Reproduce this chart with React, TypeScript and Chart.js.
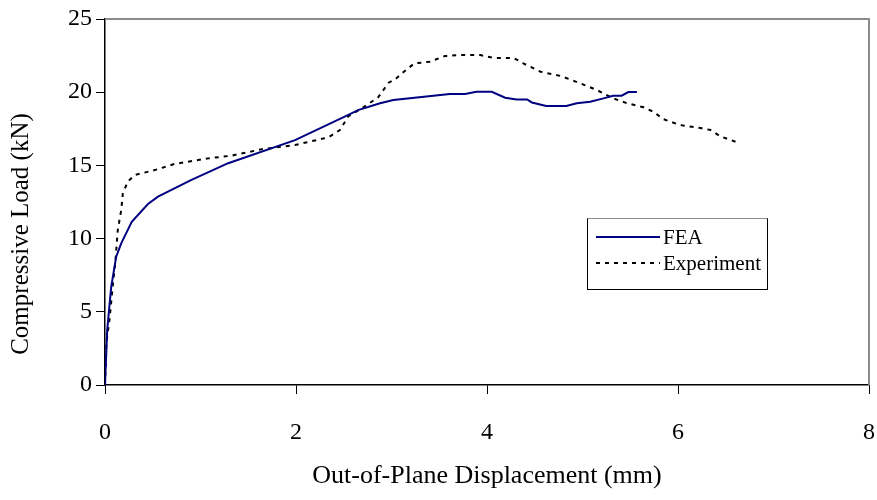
import React, { useEffect, useRef } from "react";
import { Chart, registerables } from "chart.js";

Chart.register(...registerables);

// ---- Data ----
const feaX = [0, 0.023, 0.065, 0.117, 0.17, 0.28, 0.45, 0.555, 0.9, 1.29, 1.99, 2.51, 2.65, 2.88, 3.02, 3.61, 3.77, 3.89, 4.05, 4.19, 4.31, 4.42, 4.47, 4.62, 4.83, 4.94, 5.08, 5.22, 5.32, 5.41, 5.48, 5.57];
const feaY = [0, 3.76, 6.7, 8.76, 9.68, 11.15, 12.36, 12.86, 14.0, 15.15, 16.73, 18.33, 18.78, 19.24, 19.47, 19.88, 19.88, 20.03, 20.03, 19.62, 19.5, 19.5, 19.3, 19.06, 19.06, 19.24, 19.35, 19.58, 19.76, 19.76, 20.01, 20.01];

const expX = [0, 0.013, 0.047, 0.08, 0.107, 0.134, 0.17, 0.187, 0.24, 0.31, 0.52, 0.73, 1.08, 1.32, 1.64, 1.99, 2.34, 2.46, 2.55, 2.69, 2.86, 2.97, 3.04, 3.13, 3.24, 3.4, 3.47, 3.56, 3.72, 3.93, 4.0, 4.08, 4.28, 4.38, 4.56, 4.77, 4.98, 5.15, 5.32, 5.47, 5.64, 5.74, 5.85, 6.02, 6.25, 6.34, 6.44, 6.65];
const expY = [0, 2.85, 4.44, 6.7, 8.3, 10.6, 11.95, 13.1, 13.9, 14.34, 14.68, 15.1, 15.48, 15.66, 16.1, 16.39, 16.92, 17.42, 18.37, 18.9, 19.65, 20.65, 20.88, 21.4, 21.97, 22.08, 22.25, 22.47, 22.54, 22.54, 22.43, 22.34, 22.34, 21.97, 21.4, 21.11, 20.6, 20.15, 19.58, 19.24, 18.97, 18.67, 18.15, 17.76, 17.53, 17.42, 17.0, 16.5];

const seriesLabels = ["FEA", "Experiment"];
const xTitle = "Out-of-Plane Displacement (mm)";
const yTitle = "Compressive Load (kN)";
const xRange = [0, 8];
const xStep = 2;
const yRange = [0, 25];
const yStep = 5;

const FONT = "'Liberation Serif', 'Times New Roman', Times, serif";
const FEA_COLOR = "#000080";
const EXP_COLOR = "#000000";
const EXP_DASH = [4, 5];

export default function App() {
  const ref = useRef<HTMLCanvasElement>(null);

  useEffect(() => {
    if (!ref.current) return;

    const framePlugin = {
      id: "frameAndLegend",
      afterDatasetsDraw(chart: any) {
        const { ctx, chartArea } = chart;
        const { left, top, right, bottom } = chartArea;
        ctx.save();
        // grey top / right frame
        ctx.strokeStyle = "#8c8c8c";
        ctx.lineWidth = 2;
        ctx.beginPath();
        ctx.moveTo(left, top);
        ctx.lineTo(right, top);
        ctx.lineTo(right, bottom);
        ctx.stroke();

        // legend box
        const bx = 587.5, by = 218.5, bw = 180, bh = 71;
        ctx.fillStyle = "#ffffff";
        ctx.fillRect(bx, by, bw, bh);
        ctx.lineWidth = 1;
        ctx.strokeStyle = "#000000";
        ctx.strokeRect(bx, by, bw, bh);
        ctx.strokeStyle = "#8c8c8c";
        ctx.beginPath();
        ctx.moveTo(bx, by);
        ctx.lineTo(bx + bw, by);
        ctx.stroke();

        const ds = chart.data.datasets;
        const rows = [237, 263];
        ds.forEach((d: any, i: number) => {
          const y = rows[i];
          ctx.strokeStyle = d.borderColor;
          ctx.lineWidth = 2;
          ctx.setLineDash(d.borderDash || []);
          ctx.beginPath();
          ctx.moveTo(596, y);
          ctx.lineTo(660, y);
          ctx.stroke();
          ctx.setLineDash([]);
          ctx.fillStyle = "#000";
          ctx.font = `21px ${FONT}`;
          ctx.textAlign = "left";
          ctx.textBaseline = "middle";
          ctx.fillText(d.label, 663, y + 1);
        });
        ctx.restore();
      },
      afterDraw(chart: any) {
        const { ctx } = chart;
        ctx.save();
        ctx.translate(21, 234);
        ctx.rotate(-Math.PI / 2);
        ctx.fillStyle = "#000";
        ctx.font = `25px ${FONT}`;
        ctx.textAlign = "center";
        ctx.textBaseline = "middle";
        ctx.fillText(yTitle, 0, 0);
        ctx.restore();
      },
    };

    const chart = new Chart(ref.current, {
      type: "scatter",
      data: {
        datasets: [
          {
            label: seriesLabels[0],
            data: feaX.map((x, i) => ({ x, y: feaY[i] })),
            showLine: true,
            borderColor: FEA_COLOR,
            backgroundColor: FEA_COLOR,
            borderWidth: 2,
            pointRadius: 0,
            tension: 0,
          },
          {
            label: seriesLabels[1],
            data: expX.map((x, i) => ({ x, y: expY[i] })),
            showLine: true,
            borderColor: EXP_COLOR,
            backgroundColor: EXP_COLOR,
            borderWidth: 2,
            borderDash: EXP_DASH,
            pointRadius: 0,
            tension: 0,
          },
        ],
      },
      options: {
        responsive: false,
        animation: false,
        layout: { padding: { top: 19, right: 8, left: 0, bottom: 0 } },
        plugins: {
          legend: { display: false },
          tooltip: { enabled: false },
        },
        scales: {
          x: {
            type: "linear",
            min: xRange[0],
            max: xRange[1],
            afterFit: (s: any) => {
              s.height = 115;
              s.paddingLeft = 0;
              s.paddingRight = 0;
            },
            ticks: {
              stepSize: xStep,
              color: "#000",
              padding: 24,
              font: { family: FONT, size: 24 },
            },
            grid: {
              drawOnChartArea: false,
              drawTicks: true,
              tickLength: 9,
              color: "#000",
            },
            border: { display: true, color: "#000", width: 1.5 },
            title: {
              display: true,
              text: xTitle,
              color: "#000",
              font: { family: FONT, size: 26 },
              padding: { top: 0, bottom: 8 },
            },
          },
          y: {
            type: "linear",
            min: yRange[0],
            max: yRange[1],
            afterFit: (s: any) => {
              s.width = 105;
              s.paddingTop = 0;
              s.paddingBottom = 0;
            },
            ticks: {
              stepSize: yStep,
              color: "#000",
              padding: 4,
              font: { family: FONT, size: 24 },
            },
            grid: {
              drawOnChartArea: false,
              drawTicks: true,
              tickLength: 9,
              color: "#000",
            },
            border: { display: true, color: "#000", width: 1.5 },
          },
        },
      },
      plugins: [framePlugin],
    } as any);

    return () => chart.destroy();
  }, []);

  return (
    <div style={{ position: "fixed", left: 0, top: 0, width: 877, height: 500, background: "#fff" }}>
      <canvas ref={ref} width={877} height={500} style={{ display: "block" }} />
    </div>
  );
}
